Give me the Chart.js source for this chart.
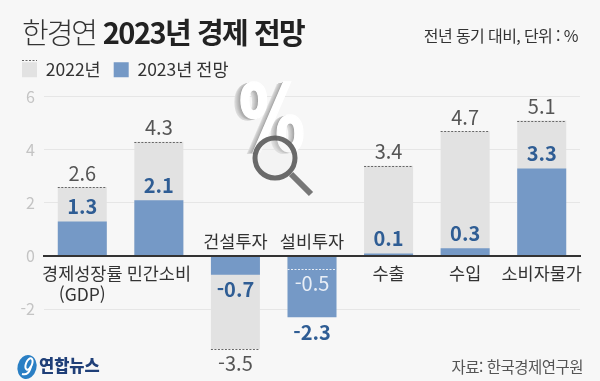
<!DOCTYPE html>
<html lang="ko">
<head>
<meta charset="utf-8">
<title>한경연 2023년 경제 전망</title>
<script src="https://cdn.jsdelivr.net/npm/chart.js@4"></script>
<style>
  html, body { margin: 0; padding: 0; background: #f7f7f7; }
  body { position: relative; width: 600px; height: 381px; overflow: hidden; font-family: "Noto Sans CJK KR", sans-serif; }
  #chart { position: absolute; left: 0; top: 0; }
  .txt { position: absolute; white-space: nowrap; }
  #title { left: 22px; top: 11px; font-size: 29px; line-height: 40px; color: #222; letter-spacing: -1.5px; }
  #title .light { font-weight: 300; color: #333; letter-spacing: -2px; }
  #unit { right: 22px; top: 24px; font-size: 16px; line-height: 22px; color: #333; letter-spacing: -0.6px; }
  #source { right: 17px; top: 355px; font-size: 15.5px; line-height: 22px; color: #555; letter-spacing: -0.5px; }
</style>
</head>
<body>
<canvas id="chart" width="600" height="381"></canvas>
<div class="txt" id="title"><span class="light">한경연</span> <b>2023년 경제 전망</b></div>
<div class="txt" id="unit">전년 동기 대비, 단위 : %</div>
<div class="txt" id="source">자료: 한국경제연구원</div>
<script>
const categories = ["경제성장률", "민간소비", "건설투자", "설비투자", "수출", "수입", "소비자물가"];
const values2022 = [2.6, 4.3, -3.5, -0.5, 3.4, 4.7, 5.1];
const values2023 = [1.3, 2.1, -0.7, -2.3, 0.1, 0.3, 3.3];
const yTicks = [6, 4, 2, 0, -2];

const FONT = '"Noto Sans CJK KR", sans-serif';

// labels, dashed bar tops and the small decorations
const annotations = {
    id: "annotations",
    afterDraw(chart) {
        const ctx = chart.ctx;
        const x = chart.scales.x;
        const y = chart.scales.y;
        ctx.save();
        ctx.textAlign = "center";
        ctx.textBaseline = "middle";

        categories.forEach((name, i) => {
            const cx = x.getPixelForValue(i);
            const v22 = values2022[i];
            const v23 = values2023[i];
            const top22 = y.getPixelForValue(v22);
            const top23 = y.getPixelForValue(v23);
            const inside = Math.abs(v22) < Math.abs(v23);

            // dashed edge of the 2022 bar
            ctx.beginPath();
            ctx.setLineDash([2, 1.5]);
            ctx.lineWidth = 1;
            ctx.strokeStyle = inside ? "#e8eef6" : "#666";
            ctx.moveTo(cx - 24.5, Math.round(top22) + 0.5);
            ctx.lineTo(cx + 24.5, Math.round(top22) + 0.5);
            ctx.stroke();
            ctx.setLineDash([]);

            // 2022 value
            ctx.font = "400 20px " + FONT;
            ctx.fillStyle = inside ? "#e8eef6" : "#555";
            ctx.fillText(v22.toFixed(1), cx, v22 > 0 ? top22 - 14 : top22 + 14);

            // 2023 value
            ctx.font = "700 20px " + FONT;
            ctx.fillStyle = "#2f5d94";
            ctx.fillText(v23.toFixed(1), cx, v23 > 0 ? top23 - 15 : top23 + 15);

            // category name
            ctx.font = "400 17.5px " + FONT;
            ctx.fillStyle = "#333";
            const zero = y.getPixelForValue(0);
            ctx.fillText(name, cx, v23 > 0 ? zero + 17 : zero - 15);
        });
        ctx.fillText("(GDP)", x.getPixelForValue(0), y.getPixelForValue(0) + 38);

        // dashed top of the legend swatch
        const box = chart.legend.legendHitBoxes[0];
        ctx.beginPath();
        ctx.setLineDash([2, 1.5]);
        ctx.strokeStyle = "#666";
        ctx.moveTo(box.left, 60.5);
        ctx.lineTo(box.left + 15, 60.5);
        ctx.stroke();
        ctx.setLineDash([]);

        drawPercent(ctx);
        drawLogo(ctx);
        ctx.restore();
    }
};

function drawPercent(ctx) {
    ctx.save();
    ctx.translate(272, 127);
    ctx.scale(0.72, 1);
    ctx.font = "700 92px 'DejaVu Sans'";
    // grey extrusion, then the white face
    for (let i = 9; i > 0; i--) {
        const g = 150 + i * 8;
        ctx.fillStyle = "rgb(" + g + "," + g + "," + g + ")";
        ctx.fillText("%", -i, i * 0.2);
    }
    ctx.fillStyle = "#ffffff";
    ctx.strokeStyle = "#ffffff";
    ctx.lineWidth = 1.5;
    ctx.strokeText("%", 0, 0);
    ctx.fillText("%", 0, 0);
    ctx.restore();

    // magnifier
    ctx.beginPath();
    ctx.arc(275, 158, 20, 0, Math.PI * 2);
    ctx.fillStyle = "rgba(235,235,235,0.35)";
    ctx.fill();
    ctx.lineWidth = 5;
    ctx.strokeStyle = "rgba(90,90,90,0.9)";
    ctx.stroke();
    ctx.beginPath();
    ctx.moveTo(291, 174);
    ctx.lineTo(311, 194);
    ctx.lineWidth = 6;
    ctx.strokeStyle = "#777";
    ctx.stroke();
}

function drawLogo(ctx) {
    ctx.beginPath();
    ctx.ellipse(27, 367, 9.5, 12, 0.25, 0, Math.PI * 2);
    ctx.fillStyle = "#2a7fc4";
    ctx.fill();
    ctx.beginPath();
    ctx.ellipse(29, 364, 3, 6, 0.4, 0, Math.PI * 2);
    ctx.lineWidth = 2;
    ctx.strokeStyle = "#fff";
    ctx.stroke();
    ctx.beginPath();
    ctx.moveTo(31, 366);
    ctx.quadraticCurveTo(29, 376, 22, 374);
    ctx.stroke();
    ctx.textAlign = "left";
    ctx.font = "900 16.5px " + FONT;
    ctx.fillStyle = "#1f3f78";
    ctx.fillText("연합뉴스", 39, 366);
}

new Chart(document.getElementById("chart"), {
    type: "bar",
    data: {
        labels: categories,
        datasets: [
            { label: "2022년", data: values2022, backgroundColor: "#e2e2e2", order: 2, grouped: false },
            { label: "2023년 전망", data: values2023, backgroundColor: "#7599c6", order: 1, grouped: false }
        ]
    },
    options: {
        responsive: false,
        animation: false,
        layout: { padding: { top: 48, right: 20, bottom: 15, left: 9 } },
        datasets: { bar: { grouped: false, categoryPercentage: 1, barPercentage: 0.64 } },
        plugins: {
            tooltip: { enabled: false },
            title: { display: false },
            // empty subtitle only keeps the gap between legend and plot
            subtitle: { display: true, text: "", weight: 500, font: { size: 1 }, padding: { top: 0, bottom: 7 } },
            legend: {
                position: "top",
                align: "start",
                onClick: null,
                labels: {
                    boxWidth: 15,
                    boxHeight: 15,
                    padding: 13,
                    color: "#333",
                    font: { family: FONT, size: 17.5 },
                    sort: (a, b) => a.datasetIndex - b.datasetIndex
                }
            }
        },
        scales: {
            x: {
                position: { y: 0 },
                z: 1,
                grid: { display: false, drawTicks: false },
                ticks: { display: false },
                border: { color: "#333", width: 2, z: 1 }
            },
            y: {
                min: -4,
                max: 6,
                afterFit: scale => { scale.width = 35; },
                afterBuildTicks: scale => { scale.ticks = yTicks.map(value => ({ value })); },
                grid: { color: "#e6e6e6", drawTicks: false },
                border: { display: false },
                ticks: { color: "#c4c4c4", padding: 9, font: { family: FONT, size: 16 } }
            }
        }
    },
    plugins: [annotations]
});
</script>
</body>
</html>
